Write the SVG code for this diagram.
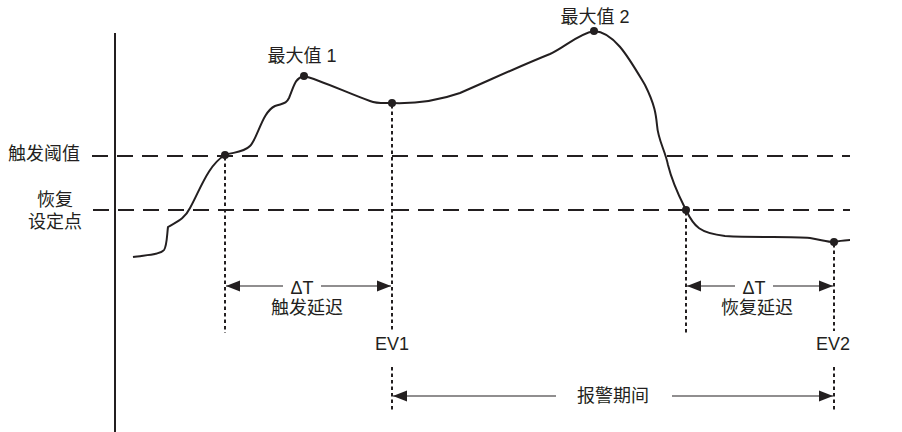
<svg xmlns="http://www.w3.org/2000/svg" width="902" height="432" viewBox="0 0 902 432">
<defs>
<style>
text{font-family:"Liberation Sans","Noto Sans CJK SC",sans-serif;font-size:18px;fill:#231f20;}
.dash{stroke:#231f20;stroke-width:2;stroke-dasharray:16 9;fill:none;}
.dot{stroke:#231f20;stroke-width:2;stroke-dasharray:3.5 3;fill:none;}
.arr{stroke:#231f20;stroke-width:1.2;fill:none;}
.curve{stroke:#231f20;stroke-width:2;fill:none;}
.pt{fill:#231f20;}
</style>
<marker id="ah" markerWidth="14" markerHeight="12" refX="14" refY="6" orient="auto-start-reverse" markerUnits="userSpaceOnUse">
<path d="M0,0.5 L14,6 L0,11.5 Z" fill="#231f20"/>
</marker>
</defs>
<g id="axis"><line x1="115" y1="33" x2="115" y2="432" stroke="#231f20" stroke-width="2"/></g>
<g id="thresholds">
<line class="dash" x1="92" y1="156" x2="850" y2="156"/>
<line class="dash" x1="93" y1="210" x2="850" y2="210"/>
<text x="8" y="160">触发阈值</text>
<text x="55" y="206" text-anchor="middle">恢复</text>
<text x="55" y="228" text-anchor="middle">设定点</text>
</g>
<g id="signal">
<path class="curve" d="M133,257 C145,255 160,255 164,250 C167,246 167,234 168,227 C176,222 184,220 190,208 C200,190 208,165 225,155 C233,152 243,153 250,146 C258,138 262,112 275,106 C284,103 286,104 289,98 C294,86 295,78 304,76 C320,80 350,94 370,101 C378,104 386,103 392,103 C420,104 440,100 460,93 C490,80 520,66 550,54 C565,47 578,34 594,31 C615,32 630,60 645,85 C655,105 656,115 657,125 C658,140 665,150 668,165 C673,185 680,198 686,210 C694,227 700,233 725,236 C760,238 790,236 810,238 C822,240 828,242 834,242 C840,241 845,240 850,240"/>
<circle class="pt" cx="225" cy="155" r="4"/>
<circle class="pt" cx="304" cy="76" r="4"/>
<circle class="pt" cx="392" cy="103" r="4"/>
<circle class="pt" cx="594" cy="31" r="4"/>
<circle class="pt" cx="686" cy="210" r="4"/>
<circle class="pt" cx="834" cy="242" r="4"/>
<text x="302" y="62" text-anchor="middle">最大值 1</text>
<text x="595" y="23" text-anchor="middle">最大值 2</text>
</g>
<g id="connectors">
<line class="dot" x1="225" y1="157" x2="225" y2="333"/>
<line class="dot" x1="392" y1="105" x2="392" y2="331"/>
<line class="dot" x1="686" y1="212" x2="686" y2="333"/>
<line class="dot" x1="834" y1="244" x2="834" y2="331"/>
<line class="dot" x1="392" y1="367" x2="392" y2="412"/>
<line class="dot" x1="834" y1="367" x2="834" y2="412"/>
<line class="arr" x1="283" y1="286" x2="226" y2="286" marker-end="url(#ah)"/>
<line class="arr" x1="321" y1="286" x2="391" y2="286" marker-end="url(#ah)"/>
<line class="arr" x1="735" y1="286" x2="687" y2="286" marker-end="url(#ah)"/>
<line class="arr" x1="773" y1="286" x2="833" y2="286" marker-end="url(#ah)"/>
<line class="arr" x1="556" y1="396" x2="393" y2="396" marker-end="url(#ah)"/>
<line class="arr" x1="672" y1="396" x2="833" y2="396" marker-end="url(#ah)"/>
</g>
<g id="labels">
<text x="302" y="294" text-anchor="middle" font-size="22">ΔT</text>
<text x="307" y="314" text-anchor="middle">触发延迟</text>
<text x="754" y="294" text-anchor="middle" font-size="22">ΔT</text>
<text x="757" y="314" text-anchor="middle">恢复延迟</text>
<text x="392" y="350" text-anchor="middle">EV1</text>
<text x="833" y="350" text-anchor="middle">EV2</text>
<text x="613" y="402" text-anchor="middle">报警期间</text>
</g>
</svg>
